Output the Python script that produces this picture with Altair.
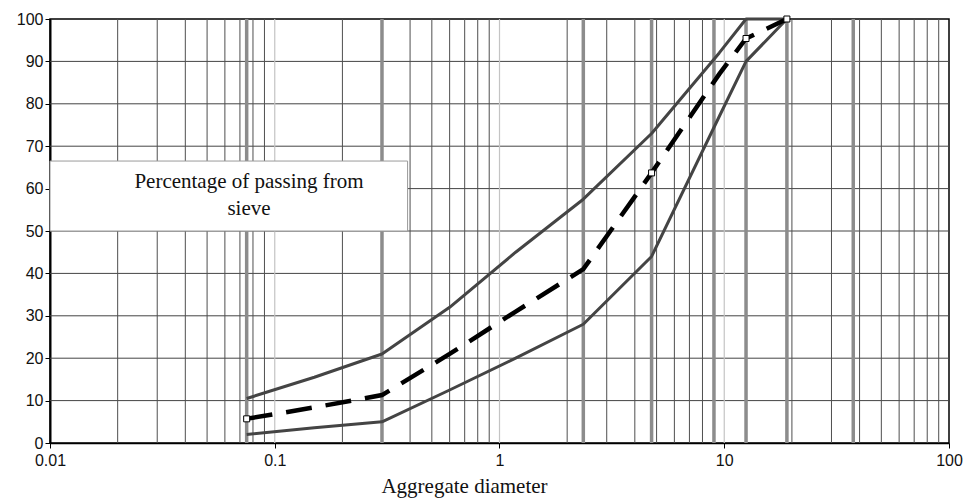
import altair as alt
import pandas as pd

# ---- data ----
sizes = [0.075, 0.15, 0.3, 0.6, 1.18, 2.36, 4.75, 9.5, 12.5, 19]
upper = [10.5, 15.5, 21, 32, 45, 57.5, 73, 92, 100, 100]
middle = [5.7, 8.4, 11.3, 21, 31, 41, 63.7, 87, 95.4, 100]
lower = [2, 3.6, 5, 12.5, 20, 28, 44, 77, 90, 100]

marker_sizes = [0.075, 4.75, 12.5, 19]
marker_values = [5.7, 63.7, 95.4, 100]

sieve_lines = [0.075, 0.3, 2.36, 4.75, 9, 12.5, 19, 37.5]
minor_grid = [0.02, 0.03, 0.04, 0.05, 0.06, 0.07, 0.08, 0.09,
              0.2, 0.3, 0.4, 0.5, 0.6, 0.7, 0.8, 0.9,
              2, 3, 4, 5, 6, 7, 8, 9,
              20, 30, 40, 50, 60, 70, 80, 90]
major_grid = [0.1, 1, 10]
y_grid = [10, 20, 30, 40, 50, 60, 70, 80, 90]
x_ticks = [0.01, 0.1, 1, 10, 100]
y_ticks = [0, 10, 20, 30, 40, 50, 60, 70, 80, 90, 100]

box_x = [0.01, 0.39]
box_y = [50, 66.5]
note_x = 0.0768
note_lines = ["Percentage of passing from", "sieve"]
note_y = [60.1, 53.8]

# ---- scales / axes ----
xs = alt.Scale(type="log", domain=[0.01, 100], nice=False)
ys = alt.Scale(domain=[0, 100], nice=False, zero=True)
xax = alt.Axis(values=x_ticks, format="~g", grid=False, tickSize=5,
               tickColor="black", domainColor="black", domainWidth=1.5,
               labelFont="Liberation Sans", labelFontSize=16, labelColor="#111",
               labelPadding=4, labelFlush=False,
               title="Aggregate diameter", titleFont="Liberation Serif",
               titleFontSize=21, titleFontWeight="normal", titleColor="#111",
               titleX=414, titleY=49, titleBaseline="alphabetic", titleAlign="center")
yax = alt.Axis(values=y_ticks, grid=False, tickSize=5, tickColor="black",
               domainColor="black", domainWidth=2,
               labelFont="Liberation Sans", labelFontSize=16, labelColor="#111",
               labelPadding=2, title=None)


def X(f):
    return alt.X(f"{f}:Q", scale=xs, axis=xax)


def Y(f):
    return alt.Y(f"{f}:Q", scale=ys, axis=yax)


hgrid = alt.Chart(pd.DataFrame({"y": y_grid})).mark_rule(
    color="#444444", strokeWidth=1).encode(y=Y("y"))
vminor = alt.Chart(pd.DataFrame({"x": minor_grid})).mark_rule(
    color="#4f4f4f", strokeWidth=1).encode(x=X("x"))
vmajor = alt.Chart(pd.DataFrame({"x": major_grid})).mark_rule(
    color="#c4c4c4", strokeWidth=1.2).encode(x=X("x"))
sieves = alt.Chart(pd.DataFrame({"x": sieve_lines})).mark_rule(
    color="#8c8c8c", strokeWidth=3.5).encode(x=X("x"))

box = alt.Chart(pd.DataFrame({"x": [box_x[0]], "x2": [box_x[1]],
                              "y": [box_y[0]], "y2": [box_y[1]]})).mark_rect(
    fill="white", stroke="#9a9a9a", strokeWidth=1).encode(
    x=X("x"), x2="x2:Q", y=Y("y"), y2="y2:Q")

note = alt.Chart(pd.DataFrame({"x": [note_x] * 2, "y": note_y, "t": note_lines})).mark_text(
    font="Liberation Serif", fontSize=21, color="#111", align="center",
    baseline="alphabetic").encode(x=X("x"), y=Y("y"), text="t:N")

bounds = pd.DataFrame({
    "x": sizes * 2,
    "y": upper + lower,
    "s": ["upper"] * len(sizes) + ["lower"] * len(sizes),
})
bound_lines = alt.Chart(bounds).mark_line(
    color="#444444", strokeWidth=3, strokeJoin="round").encode(
    x=X("x"), y=Y("y"), detail="s:N", order="x:Q")

mid = alt.Chart(pd.DataFrame({"x": sizes, "y": middle})).mark_line(
    color="black", strokeWidth=4.5, strokeDash=[26, 14]).encode(
    x=X("x"), y=Y("y"), order="x:Q")

marks = alt.Chart(pd.DataFrame({"x": marker_sizes, "y": marker_values})).mark_point(
    shape="square", size=36, filled=True, fill="white", stroke="black",
    strokeWidth=1, opacity=1).encode(x=X("x"), y=Y("y"))

chart = alt.layer(hgrid, vminor, vmajor, sieves, box, note, bound_lines, mid, marks).properties(
    width=899, height=424,
    autosize=alt.AutoSizeParams(type="none"),
    padding={"left": 50, "top": 19, "right": 20, "bottom": 57},
    background="white",
).configure_view(stroke="black", strokeWidth=1.5)

chart.save("out.html", embed_options={"renderer": "svg", "actions": False})
